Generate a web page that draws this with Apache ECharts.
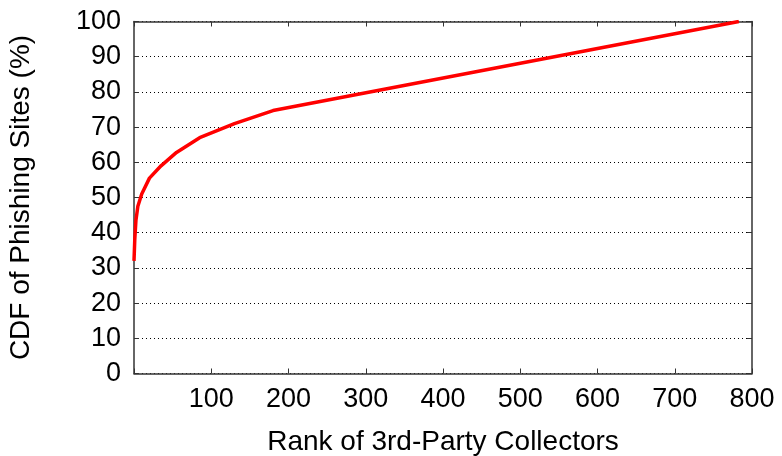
<!DOCTYPE html>
<html>
<head>
<meta charset="utf-8">
<script src="https://cdn.jsdelivr.net/npm/echarts@6/dist/echarts.min.js"></script>
<style>
  html, body { margin: 0; padding: 0; background: #fff; }
  #chart { width: 782px; height: 456px; }
</style>
</head>
<body>
<div id="chart"></div>
<script>
// Rank of collector vs cumulative share of phishing sites
const rankValues = [0, 1, 2.5, 5, 10, 20, 35, 55, 85, 130, 180, 783];
const cdfValues  = [32, 38, 43.5, 47.5, 51, 55.5, 59, 62.8, 67, 71, 74.7, 100];
const xTicks = [100, 200, 300, 400, 500, 600, 700, 800];
const yTicks = [0, 10, 20, 30, 40, 50, 60, 70, 80, 90, 100];

const FONT = 'Liberation Sans, Arial, sans-serif';
const AXIS_COLOR = '#333';

const points = rankValues.map((r, i) => [r, cdfValues[i]]);

const chart = echarts.init(document.getElementById('chart'), null, { renderer: 'canvas' });

const baseX = {
  type: 'value', min: 0, max: 800, interval: 100,
  axisLine: { show: true, onZero: false, lineStyle: { color: AXIS_COLOR, width: 1.5 } },
  axisTick: { show: true, inside: true, length: 5, lineStyle: { color: AXIS_COLOR, width: 1 } },
  splitLine: { show: false }
};
const baseY = {
  type: 'value', min: 0, max: 100, interval: 10,
  axisLine: { show: true, onZero: false, lineStyle: { color: AXIS_COLOR, width: 1.5 } },
  axisTick: { show: true, inside: true, length: 5, lineStyle: { color: AXIS_COLOR, width: 1 } }
};

chart.setOption({
  animation: false,
  grid: { left: 134, right: 30, top: 21.5, bottom: 82.5, containLabel: false, outerBoundsMode: 'none' },
  xAxis: [
    Object.assign({}, baseX, {
      position: 'bottom',
      name: 'Rank of 3rd-Party Collectors',
      nameLocation: 'middle', nameGap: 55,
      nameTextStyle: { fontFamily: FONT, fontSize: 28, color: '#000' },
      axisLabel: {
        fontFamily: FONT, fontSize: 27, color: '#000', margin: 13,
        formatter: v => xTicks.includes(v) ? String(v) : ''
      }
    }),
    Object.assign({}, baseX, { position: 'top', axisLabel: { show: false } })
  ],
  yAxis: [
    Object.assign({}, baseY, {
      position: 'left',
      name: 'CDF of Phishing Sites (%)',
      nameLocation: 'middle', nameGap: 99, nameRotate: 90,
      nameTextStyle: { fontFamily: FONT, fontSize: 28, color: '#000' },
      axisLabel: {
        fontFamily: FONT, fontSize: 27, color: '#000', margin: 13,
        formatter: v => yTicks.includes(v) ? String(v) : ''
      },
      splitLine: { show: true, lineStyle: { color: '#000', type: [1, 3], width: 1 } }
    }),
    Object.assign({}, baseY, { position: 'right', axisLabel: { show: false }, splitLine: { show: false } })
  ],
  series: [{
    type: 'line',
    data: points,
    xAxisIndex: 0, yAxisIndex: 0,
    smooth: false,
    symbol: 'none',
    lineStyle: { color: '#ff0000', width: 3.5 },
    clip: true
  }]
});
</script>
</body>
</html>
